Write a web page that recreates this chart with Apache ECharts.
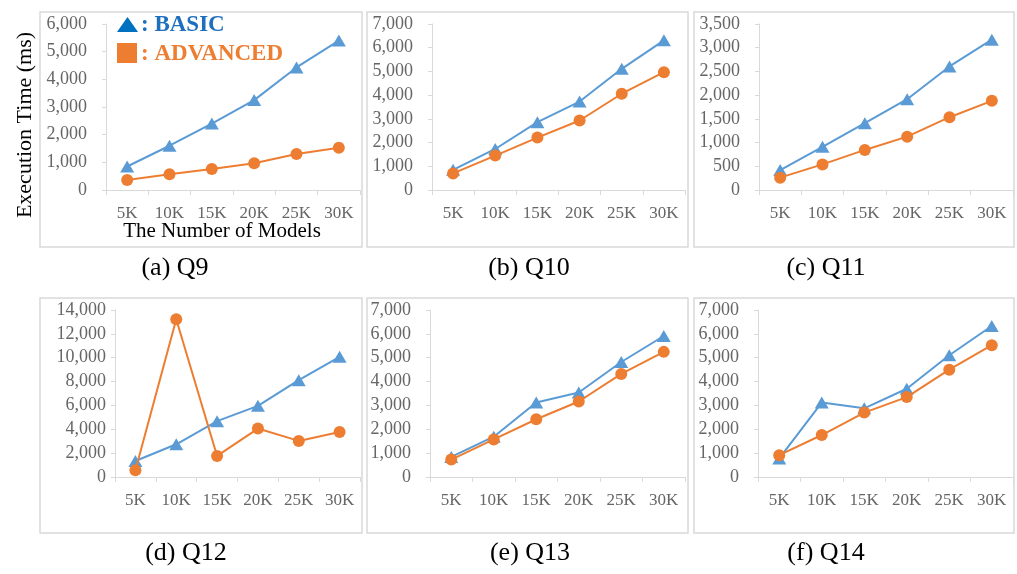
<!DOCTYPE html>
<html>
<head>
<meta charset="utf-8">
<script src="https://cdn.jsdelivr.net/npm/echarts@6/dist/echarts.min.js"></script>
<style>
html,body{margin:0;padding:0;background:#fff;}
#chart{width:1017px;height:574px;}
</style>
</head>
<body>
<div id="chart"></div>
<script>
const categories = ['5K', '10K', '15K', '20K', '25K', '30K'];
const q9Basic = [850, 1600, 2400, 3250, 4430, 5400];
const q9Advanced = [360, 570, 760, 970, 1300, 1530];
const q10Basic = [850, 1730, 2860, 3730, 5110, 6310];
const q10Advanced = [700, 1450, 2210, 2930, 4060, 4970];
const q11Basic = [420, 910, 1410, 1915, 2605, 3170];
const q11Advanced = [260, 540, 845, 1125, 1535, 1880];
const q12Basic = [1340, 2745, 4680, 5965, 8120, 10080];
const q12Advanced = [560, 13220, 1765, 4060, 3025, 3780];
const q13Basic = [840, 1690, 3120, 3540, 4820, 5910];
const q13Advanced = [730, 1575, 2420, 3165, 4320, 5245];
const q14Basic = [780, 3120, 2880, 3700, 5105, 6330];
const q14Advanced = [915, 1760, 2700, 3350, 4500, 5525];
const yMaxes = [6000, 7000, 3500, 14000, 7000, 7000];
const yIntervals = [1000, 1000, 500, 2000, 1000, 1000];
const captions = ['(a) Q9', '(b) Q10', '(c) Q11', '(d) Q12', '(e) Q13', '(f) Q14'];
const seriesNames = ['BASIC', 'ADVANCED'];
const yTitle = 'Execution Time (ms)';
const xTitle = 'The Number of Models';

const basicData = [q9Basic, q10Basic, q11Basic, q12Basic, q13Basic, q14Basic];
const advData = [q9Advanced, q10Advanced, q11Advanced, q12Advanced, q13Advanced, q14Advanced];

// layout
const grids = [
  {left: 106, top: 24, width: 254, height: 166, labelMargin: 19},
  {left: 432, top: 24, width: 253, height: 166, labelMargin: 19},
  {left: 759, top: 24, width: 254, height: 166, labelMargin: 19},
  {left: 115, top: 310, width: 245, height: 167, labelMargin: 9},
  {left: 430, top: 310, width: 255, height: 167, labelMargin: 19},
  {left: 758, top: 310, width: 255, height: 167, labelMargin: 19}
];
const boxes = [
  [40, 12, 322, 235], [367, 12, 321, 235], [694, 12, 320, 235],
  [40, 298, 322, 235], [367, 298, 321, 235], [694, 298, 320, 235]
];
const capPos = [[175, 268], [529, 268], [826, 268], [186, 553], [530, 553], [826, 553]];

const FONT = '"Liberation Serif", "Times New Roman", serif';
const BLUE = '#5B9BD5';
const ORANGE = '#ED7D31';
const AXIS = '#D9D9D9';
const LABEL = '#666666';

const option = {
  backgroundColor: '#fff',
  animation: false,
  grid: [], xAxis: [], yAxis: [], series: [], graphic: []
};

grids.forEach((g, i) => {
  option.grid.push({left: g.left, top: g.top, width: g.width, height: g.height, containLabel: false});
  option.xAxis.push({
    type: 'category', gridIndex: i, data: categories, boundaryGap: true,
    axisLine: {show: true, lineStyle: {color: AXIS, width: 1}},
    axisTick: {show: true, length: 5, interval: 0, lineStyle: {color: AXIS}},
    axisLabel: {color: LABEL, fontFamily: FONT, fontSize: 17, margin: 15, interval: 0},
    splitLine: {show: false}
  });
  option.yAxis.push({
    type: 'value', gridIndex: i, min: 0, max: yMaxes[i], interval: yIntervals[i],
    axisLine: {show: true, lineStyle: {color: AXIS, width: 1}},
    axisTick: {show: true, length: 4, lineStyle: {color: AXIS}},
    axisLabel: {color: LABEL, fontFamily: FONT, fontSize: 18, margin: g.labelMargin,
      formatter: v => v.toLocaleString('en-US')},
    splitLine: {show: false}
  });
  option.series.push({
    name: seriesNames[0], type: 'line', xAxisIndex: i, yAxisIndex: i,
    data: basicData[i], symbol: 'triangle', symbolSize: [14, 12],
    lineStyle: {color: BLUE, width: 2}, itemStyle: {color: BLUE}, z: 2
  });
  option.series.push({
    name: seriesNames[1], type: 'line', xAxisIndex: i, yAxisIndex: i,
    data: advData[i], symbol: 'circle', symbolSize: 12,
    lineStyle: {color: ORANGE, width: 2}, itemStyle: {color: ORANGE}, z: 3
  });
});

boxes.forEach(b => {
  option.graphic.push({type: 'rect', shape: {x: b[0], y: b[1], width: b[2], height: b[3]},
    style: {fill: 'none', stroke: AXIS, lineWidth: 1.5}, z: 0, silent: true});
});
captions.forEach((c, i) => {
  option.graphic.push({type: 'text', x: capPos[i][0], y: capPos[i][1],
    style: {text: c, font: '26px ' + FONT, fill: '#000', align: 'center', verticalAlign: 'middle'}});
});
option.graphic.push({type: 'text', x: 25, y: 125, rotation: Math.PI / 2,
  style: {text: yTitle, font: '22px ' + FONT, fill: '#000', align: 'center', verticalAlign: 'middle'}});
option.graphic.push({type: 'text', x: 222, y: 231,
  style: {text: xTitle, font: '21px ' + FONT, fill: '#000', align: 'center', verticalAlign: 'middle'}});
// legend
option.graphic.push({type: 'polygon', shape: {points: [[117, 32], [127.5, 17], [138, 32]]},
  style: {fill: '#0070C0'}, z: 10});
option.graphic.push({type: 'text', x: 141, y: 25,
  style: {text: ': ' + seriesNames[0], font: 'bold 23px ' + FONT, fill: '#1F6FBF', verticalAlign: 'middle'}, z: 10});
option.graphic.push({type: 'rect', shape: {x: 117, y: 43, width: 20, height: 20},
  style: {fill: ORANGE}, z: 10});
option.graphic.push({type: 'text', x: 141, y: 54,
  style: {text: ': ' + seriesNames[1], font: 'bold 23px ' + FONT, fill: ORANGE, verticalAlign: 'middle'}, z: 10});

const chart = echarts.init(document.getElementById('chart'), null, {renderer: 'canvas'});
chart.setOption(option);
</script>
</body>
</html>
